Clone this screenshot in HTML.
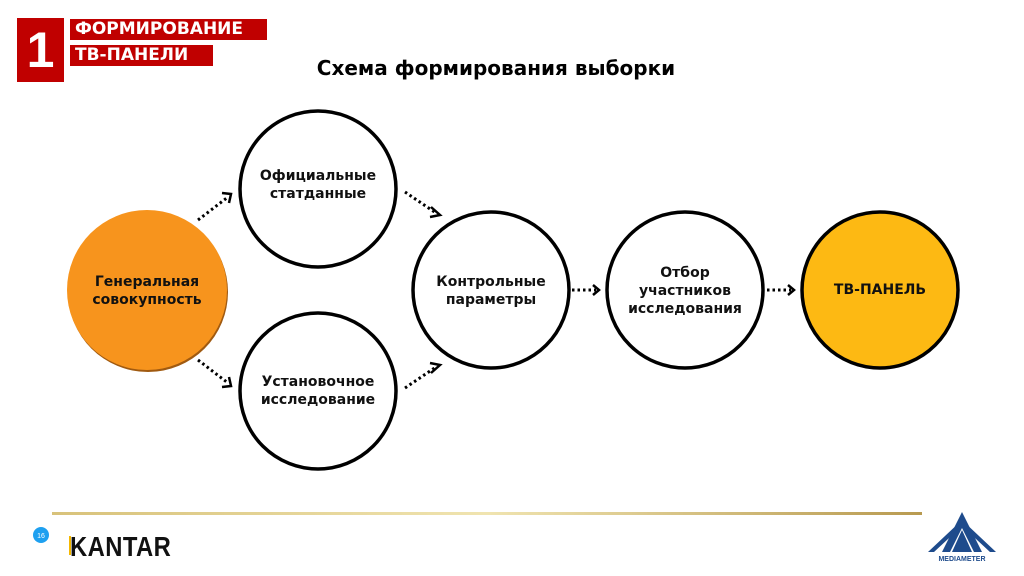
<!DOCTYPE html>
<html><head><meta charset="utf-8"><style>
body{margin:0;width:1024px;height:576px;background:#fff;position:relative;overflow:hidden;font-family:"Liberation Sans","DejaVu Sans",sans-serif}
.a{position:absolute}
</style></head><body>
<div class="a" style="left:17px;top:18px;width:47px;height:64px;background:#c00000;color:#fff;font:bold 50px 'Liberation Sans',sans-serif;text-align:center;line-height:64px">1</div>
<div class="a" style="left:70px;top:19px;width:197px;height:21px;background:#c00000;color:#fff;font:bold 17px 'DejaVu Sans',sans-serif;line-height:21px;padding-left:5px;box-sizing:border-box">ФОРМИРОВАНИЕ</div>
<div class="a" style="left:70px;top:45px;width:143px;height:21px;background:#c00000;color:#fff;font:bold 17px 'DejaVu Sans',sans-serif;line-height:21px;padding-left:5px;box-sizing:border-box">ТВ-ПАНЕЛИ</div>
<div class="a" style="left:0;width:1024px;top:56px;text-align:center;font:bold 20px 'DejaVu Sans',sans-serif;color:#000"><span style="position:relative;left:-16px">Схема формирования выборки</span></div>
<svg class="a" style="left:0;top:0" width="1024" height="576">
<defs><linearGradient id="g"><stop offset="0" stop-color="#d8c27a"/><stop offset=".5" stop-color="#f0e4b0"/><stop offset="1" stop-color="#b89a50"/></linearGradient></defs>
<circle cx="148" cy="292" r="80" fill="#a05a10"/>
<circle cx="147" cy="290" r="80" fill="#f7941d"/>
<g fill="none" stroke="#000" stroke-width="3.5">
<circle cx="318" cy="189" r="78"/>
<circle cx="318" cy="391" r="78"/>
<circle cx="491" cy="290" r="78"/>
<circle cx="685" cy="290" r="78"/>
</g>
<circle cx="880" cy="290" r="78" fill="#fdb913" stroke="#000" stroke-width="3.5"/>
<g fill="none" stroke="#000" stroke-width="3" stroke-dasharray="2.5 3">
<line x1="198" y1="220" x2="228" y2="197"/>
<line x1="198" y1="360" x2="228" y2="383"/>
<line x1="405" y1="192" x2="436" y2="213"/>
<line x1="405" y1="388" x2="436" y2="367"/>
<line x1="572" y1="290" x2="596" y2="290"/>
<line x1="767" y1="290" x2="791" y2="290"/>
</g>
<g fill="none" stroke="#000" stroke-width="2.5">
<polyline points="222,193 231,194 229,203"/>
<polyline points="222,387 231,386 229,377"/>
<polyline points="431,207 440,215 430,217"/>
<polyline points="431,373 440,365 430,363"/>
<polyline points="593,285 599,290 593,295"/>
<polyline points="788,285 794,290 788,295"/>
</g>
<rect x="52" y="512" width="870" height="3" fill="url(#g)"/>
<circle cx="41" cy="535" r="8" fill="#1ea0f0"/>
<text x="41" y="538" font-size="7" fill="#fff" text-anchor="middle" font-family="Liberation Sans">16</text>
<rect x="69" y="536" width="2" height="19" fill="#f5b800"/>
<g fill="#1e4b8c">
<polygon points="962,512 942,552 950,552 962,528 974,552 982,552"/>
<polygon points="962,530 952,552 972,552"/>
</g>
<polygon points="962,520 928,552 934,552 962,526 990,552 996,552" fill="#1e4b8c"/>
<text x="962" y="561" font-size="7" font-weight="bold" fill="#1e4b8c" text-anchor="middle" font-family="Liberation Sans">MEDIAMETER</text>
</svg>
<div class="a" style="left:70px;top:531px;font:bold 28px 'Liberation Sans',sans-serif;transform:scaleX(0.85);transform-origin:left;color:#111;letter-spacing:0.5px">KANTAR</div>
<div class="a" style="font:bold 14px 'DejaVu Sans',sans-serif;text-align:center;line-height:18px;color:#111;left:67px;width:160px;top:273px">Генеральная<br>совокупность</div>
<div class="a" style="font:bold 14px 'DejaVu Sans',sans-serif;text-align:center;line-height:18px;color:#111;left:238px;width:160px;top:167px">Официальные<br>статданные</div>
<div class="a" style="font:bold 14px 'DejaVu Sans',sans-serif;text-align:center;line-height:18px;color:#111;left:238px;width:160px;top:373px">Установочное<br>исследование</div>
<div class="a" style="font:bold 14px 'DejaVu Sans',sans-serif;text-align:center;line-height:18px;color:#111;left:411px;width:160px;top:273px">Контрольные<br>параметры</div>
<div class="a" style="font:bold 14px 'DejaVu Sans',sans-serif;text-align:center;line-height:18px;color:#111;left:605px;width:160px;top:264px">Отбор<br>участников<br>исследования</div>
<div class="a" style="font:bold 14px 'DejaVu Sans',sans-serif;text-align:center;line-height:18px;color:#111;left:800px;width:160px;top:281px">ТВ-ПАНЕЛЬ</div>
</body></html>
